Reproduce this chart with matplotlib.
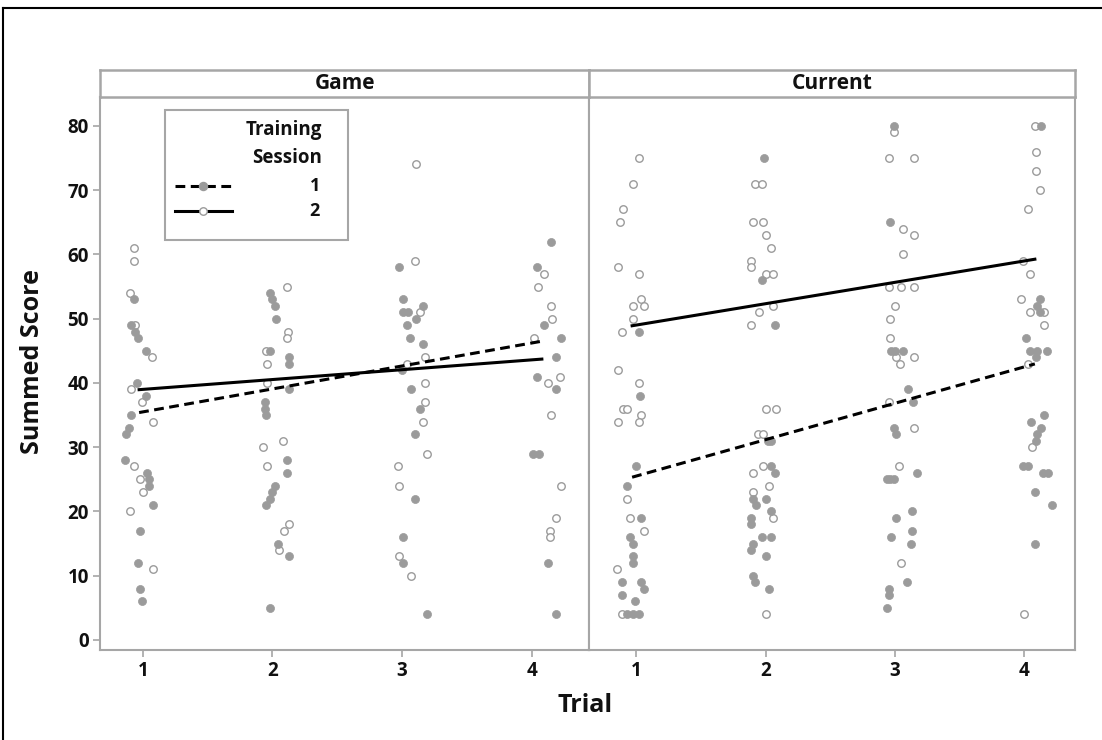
import matplotlib.pyplot as plt
from matplotlib.lines import Line2D
from matplotlib.patches import Rectangle
import numpy as np

plt.rcParams['font.family'] = ['Open Sans', 'DejaVu Sans']

# ---- data ----
trials = [1, 2, 3, 4]
panels = ['Game', 'Current']

# Game panel: scores per trial, session 1 (filled) and session 2 (open), plus jitter
g1_s1 = [53, 49, 48, 47, 45, 40, 38, 35, 33, 32, 28, 26, 25, 24, 21, 17, 12, 8, 6]
g1_s1_j = [-0.07, -0.09, -0.06, -0.04, 0.02, -0.05, 0.02, -0.09, -0.11, -0.13, -0.14, 0.03, 0.05, 0.05, 0.08, -0.02, -0.04, -0.02, -0.01]
g1_s2 = [61, 59, 54, 49, 44, 39, 37, 34, 27, 25, 23, 20, 11]
g1_s2_j = [-0.07, -0.07, -0.10, -0.06, 0.07, -0.09, -0.01, 0.08, -0.07, -0.02, 0.00, -0.10, 0.08]

g2_s1 = [54, 53, 52, 50, 45, 44, 43, 39, 37, 36, 35, 28, 26, 24, 23, 22, 21, 15, 13, 5]
g2_s1_j = [-0.02, 0.00, 0.02, 0.03, -0.02, 0.13, 0.13, 0.13, -0.06, -0.06, -0.05, 0.11, 0.11, 0.02, 0.00, -0.02, -0.05, 0.04, 0.13, -0.02]
g2_s2 = [55, 48, 47, 45, 43, 40, 31, 30, 27, 18, 17, 14]
g2_s2_j = [0.11, 0.12, 0.11, -0.05, -0.04, -0.04, 0.08, -0.07, -0.04, 0.13, 0.09, 0.05]

g3_s1 = [58, 53, 52, 51, 51, 50, 49, 47, 46, 42, 39, 36, 32, 22, 16, 12, 4]
g3_s1_j = [-0.02, 0.01, 0.16, 0.01, 0.05, 0.11, 0.04, 0.06, 0.16, 0.00, 0.07, 0.14, 0.10, 0.10, 0.01, 0.01, 0.19]
g3_s2 = [74, 59, 51, 44, 43, 40, 37, 34, 29, 27, 24, 13, 10]
g3_s2_j = [0.11, 0.10, 0.14, 0.18, 0.04, 0.18, 0.18, 0.16, 0.19, -0.03, -0.02, -0.02, 0.07]

g4_s1 = [62, 58, 49, 47, 44, 41, 39, 29, 29, 12, 4]
g4_s1_j = [0.15, 0.04, 0.10, 0.23, 0.19, 0.04, 0.19, 0.01, 0.06, 0.13, 0.19]
g4_s2 = [57, 55, 52, 50, 47, 41, 40, 35, 24, 19, 17, 16]
g4_s2_j = [0.10, 0.05, 0.15, 0.16, 0.02, 0.22, 0.13, 0.15, 0.23, 0.19, 0.14, 0.14]

# Current panel
c1_s1 = [48, 38, 27, 24, 19, 16, 15, 13, 12, 9, 9, 8, 7, 6, 4, 4, 4]
c1_s1_j = [0.02, 0.03, 0.00, -0.07, 0.04, -0.05, -0.02, -0.02, -0.02, -0.11, 0.04, 0.06, -0.11, -0.01, -0.07, -0.02, 0.02]
c1_s2 = [75, 71, 67, 65, 58, 57, 53, 52, 52, 50, 48, 42, 40, 36, 36, 35, 34, 34, 22, 19, 17, 11, 4]
c1_s2_j = [0.02, -0.02, -0.10, -0.12, -0.14, 0.02, 0.04, -0.02, 0.06, -0.02, -0.11, -0.14, 0.02, -0.10, -0.07, 0.04, -0.14, 0.02, -0.07, -0.05, 0.06, -0.15, -0.11]

c2_s1 = [75, 56, 49, 31, 31, 27, 26, 22, 22, 21, 20, 19, 18, 16, 16, 15, 14, 13, 10, 9, 8]
c2_s1_j = [-0.01, -0.03, 0.07, 0.02, 0.04, 0.04, 0.07, -0.10, 0.00, -0.07, 0.04, -0.11, -0.11, -0.03, 0.04, -0.10, -0.11, 0.00, -0.10, -0.08, 0.03]
c2_s2 = [71, 71, 65, 65, 63, 61, 59, 58, 57, 57, 52, 51, 49, 36, 36, 32, 32, 27, 26, 24, 23, 19, 4]
c2_s2_j = [-0.08, -0.03, -0.10, -0.02, 0.00, 0.04, -0.11, -0.11, 0.00, 0.06, 0.06, -0.05, -0.11, 0.00, 0.08, -0.06, -0.02, -0.02, -0.10, 0.03, -0.10, 0.06, 0.00]

c3_s1 = [80, 65, 45, 45, 45, 39, 37, 33, 32, 26, 25, 25, 25, 20, 19, 17, 16, 15, 9, 8, 7, 5]
c3_s1_j = [-0.01, -0.04, -0.03, 0.00, 0.06, 0.10, 0.14, -0.01, 0.01, 0.17, -0.06, -0.04, -0.01, 0.13, 0.01, 0.13, -0.03, 0.12, 0.09, -0.05, -0.05, -0.06]
c3_s2 = [79, 75, 75, 64, 63, 60, 55, 55, 55, 52, 50, 47, 44, 44, 43, 37, 33, 27, 12]
c3_s2_j = [-0.01, -0.05, 0.15, 0.06, 0.15, 0.06, -0.05, 0.05, 0.15, 0.00, -0.04, -0.04, 0.01, 0.15, 0.04, -0.05, 0.15, 0.03, 0.05]

c4_s1 = [80, 53, 52, 51, 47, 45, 45, 45, 44, 35, 34, 33, 32, 31, 27, 27, 26, 26, 23, 21, 15]
c4_s1_j = [0.13, 0.12, 0.10, 0.12, 0.01, 0.04, 0.10, 0.17, 0.09, 0.15, 0.05, 0.13, 0.10, 0.09, -0.01, 0.03, 0.14, 0.18, 0.08, 0.21, 0.08]
c4_s2 = [80, 76, 73, 70, 67, 59, 57, 53, 51, 51, 49, 43, 30, 4]
c4_s2_j = [0.08, 0.09, 0.09, 0.12, 0.03, -0.01, 0.04, -0.03, 0.04, 0.15, 0.15, 0.03, 0.06, 0.00]

# fitted lines (intercept, slope) per panel and session
fit_game = {1: (31.93, 3.57), 2: (37.47, 1.53)}
fit_current = {1: (19.83, 5.67), 2: (45.67, 3.33)}

game = {1: (g1_s1, g1_s1_j, g1_s2, g1_s2_j), 2: (g2_s1, g2_s1_j, g2_s2, g2_s2_j),
        3: (g3_s1, g3_s1_j, g3_s2, g3_s2_j), 4: (g4_s1, g4_s1_j, g4_s2, g4_s2_j)}
current = {1: (c1_s1, c1_s1_j, c1_s2, c1_s2_j), 2: (c2_s1, c2_s1_j, c2_s2, c2_s2_j),
           3: (c3_s1, c3_s1_j, c3_s2, c3_s2_j), 4: (c4_s1, c4_s1_j, c4_s2, c4_s2_j)}

GREY = '#9b9b9b'
FRAME = '#a6a6a6'
TXT = '#111111'
W, H = 1102, 740

fig = plt.figure(figsize=(W / 100, H / 100), dpi=100)
axL = fig.add_axes([100 / W, 1 - 650 / H, 489 / W, 553 / H])
axR = fig.add_axes([589 / W, 1 - 650 / H, 486 / W, 553 / H], sharey=axL)

dash = (0, (3.2, 1.8))

for ax, data, fits, name, left in [(axL, game, fit_game, 'Game', 100),
                                   (axR, current, fit_current, 'Current', 589)]:
    for t in trials:
        s1, j1, s2, j2 = data[t]
        ax.plot(t + np.array(j2), s2, 'o', ms=5.4, mfc='white', mec=GREY, mew=1.0, ls='none', zorder=2)
        ax.plot(t + np.array(j1), s1, 'o', ms=5.8, mfc=GREY, mec=GREY, mew=0.5, ls='none', zorder=3)
    xs = np.array([0.97, 4.08])
    b0, b1 = fits[1]
    ax.plot(xs, b0 + b1 * xs, color='black', lw=2.2, ls=dash, zorder=4)
    b0, b1 = fits[2]
    ax.plot(xs, b0 + b1 * xs, color='black', lw=2.2, zorder=4)

    ax.set_xticks(trials)
    ax.set_xticklabels([str(t) for t in trials])
    for sp in ax.spines.values():
        sp.set_color(FRAME)
        sp.set_linewidth(1.5)
    ax.tick_params(axis='both', colors=FRAME, labelcolor=TXT, length=5, width=1.2,
                   labelsize=13.5, pad=3)
    for lab in ax.get_xticklabels() + ax.get_yticklabels():
        lab.set_fontweight('bold')

    # strip on top
    sax = fig.add_axes([left / W, 1 - 97 / H, (489 if name == 'Game' else 486) / W, 27 / H])
    sax.set_xticks([])
    sax.set_yticks([])
    sax.set_facecolor('white')
    for sp in sax.spines.values():
        sp.set_color(FRAME)
        sp.set_linewidth(1.8)
    sax.text(0.5, 0.5, name, ha='center', va='center', fontsize=15, fontweight='bold',
             color=TXT, transform=sax.transAxes)

axL.set_xlim(0.668, 4.444)
axR.set_xlim(0.637, 4.39)
axL.set_ylim(-1.56, 84.5)
axL.set_yticks(np.arange(0, 81, 10))
axR.tick_params(axis='y', left=False, labelleft=False)

# legend drawn in the Game panel
y1, y2 = 0.839, 0.794
axL.add_patch(Rectangle((0.133, 0.741), 0.374, 0.235, transform=axL.transAxes,
                        facecolor='white', edgecolor=FRAME, lw=1.5, zorder=5))
axL.text(0.454, 0.940, 'Training', ha='right', va='center', fontsize=13.5, fontweight='bold',
         color=TXT, transform=axL.transAxes, zorder=6)
axL.text(0.454, 0.890, 'Session', ha='right', va='center', fontsize=13.5, fontweight='bold',
         color=TXT, transform=axL.transAxes, zorder=6)
axL.plot([0.153, 0.270], [y1, y1], color='black', lw=2.2, ls=dash,
         transform=axL.transAxes, zorder=6)
axL.plot([0.211], [y1], 'o', ms=5.8, mfc=GREY, mec=GREY, transform=axL.transAxes, zorder=7)
axL.plot([0.153, 0.270], [y2, y2], color='black', lw=2.2,
         transform=axL.transAxes, zorder=6)
axL.plot([0.211], [y2], 'o', ms=5.4, mfc='white', mec=GREY, mew=1.0,
         transform=axL.transAxes, zorder=7)
axL.text(0.450, y1, '1', ha='right', va='center', fontsize=13, fontweight='bold',
         color=TXT, transform=axL.transAxes, zorder=6)
axL.text(0.450, y2, '2', ha='right', va='center', fontsize=13, fontweight='bold',
         color=TXT, transform=axL.transAxes, zorder=6)

fig.text(33 / W, 1 - 361 / H, 'Summed Score', rotation=90, ha='center', va='center',
         fontsize=18, fontweight='bold', color=TXT)
fig.text(585 / W, 1 - 706 / H, 'Trial', ha='center', va='center',
         fontsize=18, fontweight='bold', color=TXT)

# outer frame of the figure
fig.add_artist(Line2D([3 / W, 3 / W], [0, 1 - 8 / H], transform=fig.transFigure, color='black', lw=1.5))
fig.add_artist(Line2D([3 / W, 1], [1 - 8 / H, 1 - 8 / H], transform=fig.transFigure, color='black', lw=1.5))

fig.savefig('out.png', dpi=100)
